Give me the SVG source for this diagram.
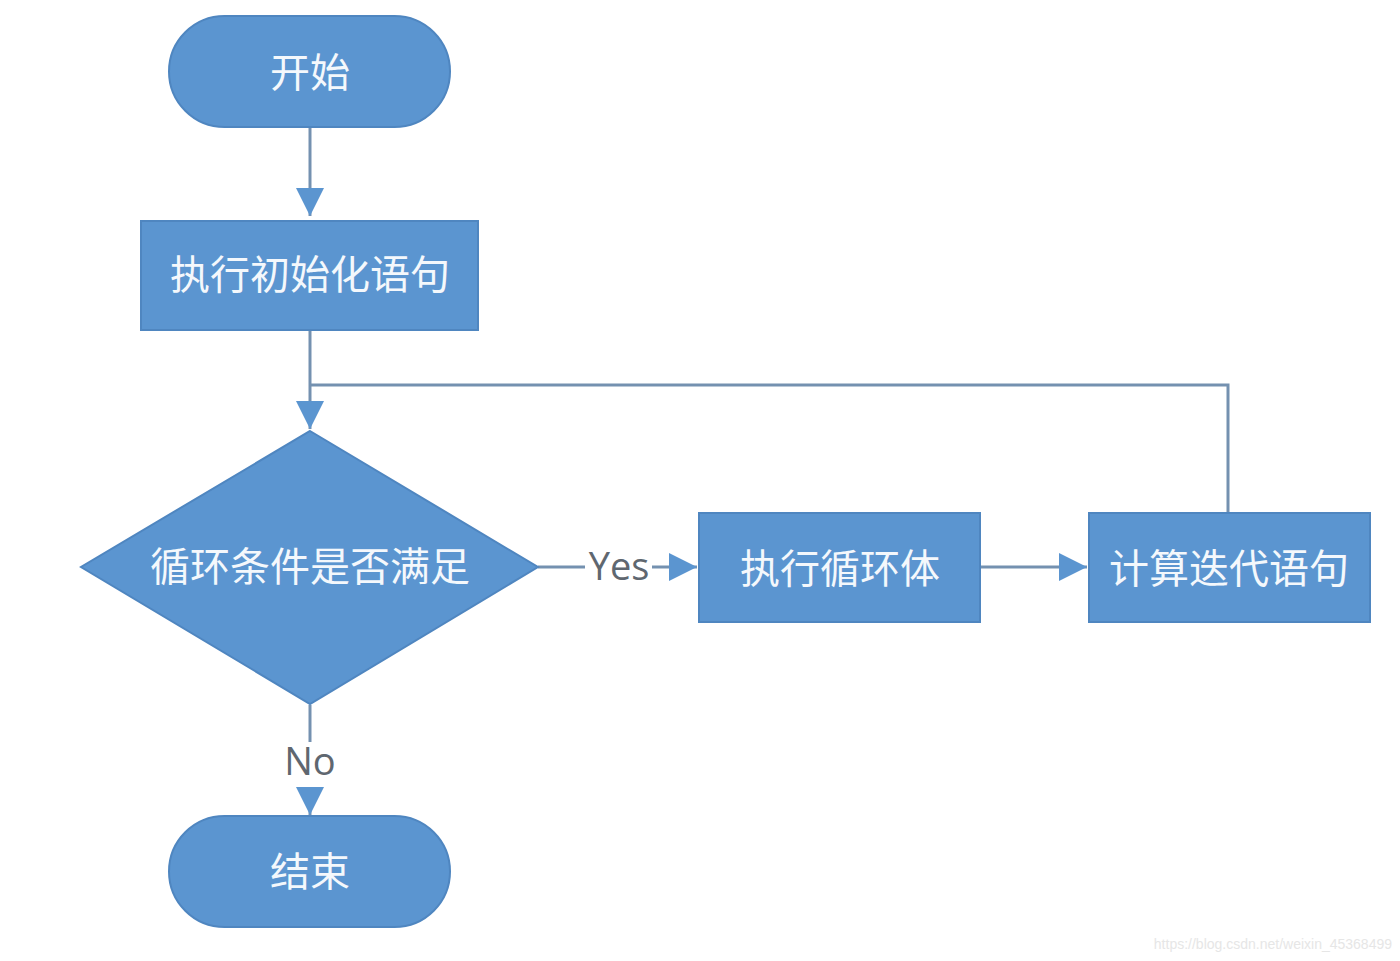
<svg xmlns="http://www.w3.org/2000/svg" width="1400" height="961" viewBox="0 0 1400 961">
<style>
.shape{fill:#5b95d0;stroke:#4f86c0;stroke-width:2}
.t{font-family:"Noto Sans CJK SC","Microsoft YaHei",sans-serif;font-size:40px;fill:#f4f8fc;text-anchor:middle;dominant-baseline:central}
.lbl{font-family:"Open Sans","Liberation Sans",sans-serif;font-size:38px;fill:#5f6770;text-anchor:middle;dominant-baseline:central}
.c{fill:none;stroke:#7491b0;stroke-width:3}
.wm{font-family:"Liberation Sans",sans-serif;font-size:14px;fill:#e6e6e6;text-anchor:end}
</style>
<defs>
<marker id="a" viewBox="0 0 28 28" refX="28" refY="14" markerWidth="28" markerHeight="28" markerUnits="userSpaceOnUse" orient="auto">
<path d="M0,0 L28,14 L0,28 z" fill="#5b95d0"/>
</marker>
</defs>
<rect width="1400" height="961" fill="#ffffff"/>
<g id="connectors">
<path class="c" d="M310,127 V216" marker-end="url(#a)"/>
<path class="c" d="M310,330 V429" marker-end="url(#a)"/>
<path class="c" d="M1228,512 V385 H310"/>
<path class="c" d="M538,567 H585"/>
<path class="c" d="M652,567 H697" marker-end="url(#a)"/>
<path class="c" d="M980,567 H1087" marker-end="url(#a)"/>
<path class="c" d="M310,705 V742"/>
<path class="c" d="M310,788 V815" marker-end="url(#a)"/>
<text class="lbl" x="619" y="565">Yes</text>
<text class="lbl" x="310" y="760">No</text>
</g>
<g id="start">
<rect class="shape" x="169" y="16" width="281" height="111" rx="55.5"/>
<text class="t" x="310" y="70">开始</text>
</g>
<g id="init">
<rect class="shape" x="141" y="221" width="337" height="109"/>
<text class="t" x="310" y="272">执行初始化语句</text>
</g>
<g id="cond">
<polygon class="shape" points="310,431 538,567 310,704 81,567"/>
<text class="t" x="310" y="564">循环条件是否满足</text>
</g>
<g id="body">
<rect class="shape" x="699" y="513" width="281" height="109"/>
<text class="t" x="840" y="566">执行循环体</text>
</g>
<g id="iter">
<rect class="shape" x="1089" y="513" width="281" height="109"/>
<text class="t" x="1229" y="566">计算迭代语句</text>
</g>
<g id="end">
<rect class="shape" x="169" y="816" width="281" height="111" rx="55.5"/>
<text class="t" x="310" y="869">结束</text>
</g>
<text class="wm" x="1392" y="949">https://blog.csdn.net/weixin_45368499</text>
</svg>
